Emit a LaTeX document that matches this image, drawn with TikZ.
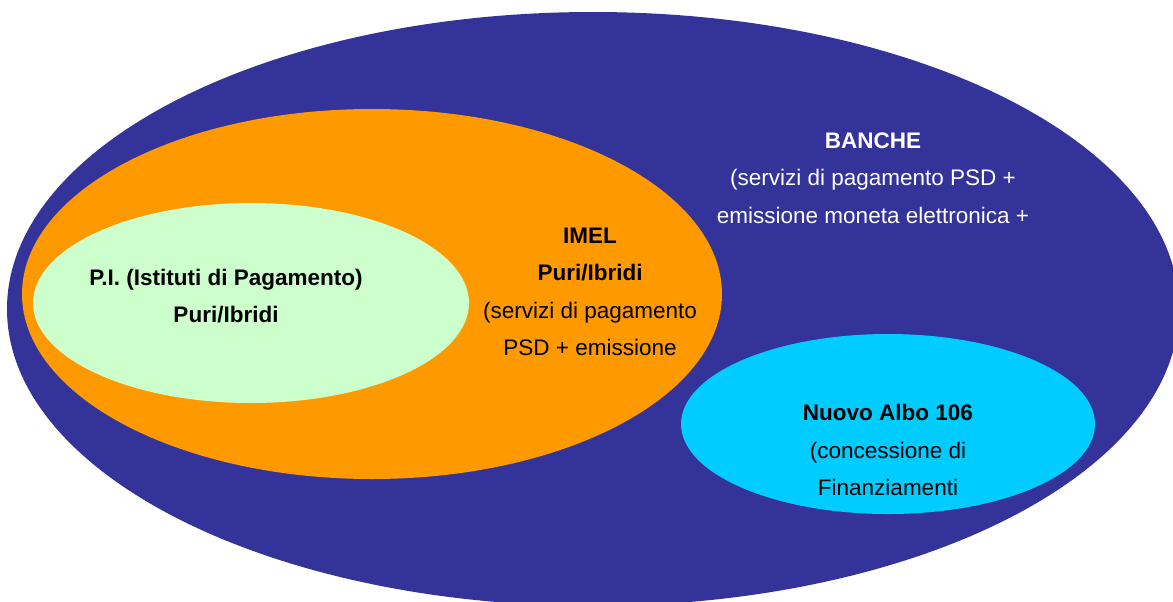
\documentclass[tikz,border=0pt]{standalone}
\usepackage{fontspec}
\setmainfont{Liberation Sans}
\usepackage{xcolor}

\definecolor{bancheblue}{HTML}{333399}
\definecolor{imelorange}{HTML}{FF9900}
\definecolor{pigreen}{HTML}{CCFFCC}
\definecolor{albocyan}{HTML}{00CCFF}

\begin{document}
\begin{tikzpicture}[x=0.025cm, y=-0.025cm,
    settext/.style={align=center, font=\fontsize{16}{26.7}\selectfont}]
    % --- 1. THE NESTED SETS ---
    % Page frame, the big set runs off the right and bottom edges
    \useasboundingbox (0,0) rectangle (1173,601);
    \clip (0,0) rectangle (1173,601);

    % Banche: the outer ellipse
    \fill[bancheblue] (593,309) ellipse [x radius=586, y radius=297];

    % IMEL inside the banks, P.I. inside IMEL
    \fill[imelorange] (372,294) ellipse [x radius=350, y radius=185];
    \fill[pigreen] (251,303) ellipse [x radius=218, y radius=100];

    % Albo 106 sits apart, lower right
    \fill[albocyan] (888,424) ellipse [x radius=207, y radius=90];

    % --- 2. LABELS ---
    \node[settext, text=white] (banche) at (873,178)
        {\textbf{BANCHE}\\(servizi di pagamento PSD +\\emissione moneta elettronica +};
    \node[settext] (imel) at (590,292)
        {\textbf{IMEL}\\\textbf{Puri/Ibridi}\\(servizi di pagamento\\PSD + emissione};
    \node[settext] (pi) at (226,296)
        {\textbf{P.I. (Istituti di Pagamento)}\\\textbf{Puri/Ibridi}};
    \node[settext] (albo) at (888,450)
        {\textbf{Nuovo Albo 106}\\(concessione di\\Finanziamenti};

\end{tikzpicture}
\end{document}
